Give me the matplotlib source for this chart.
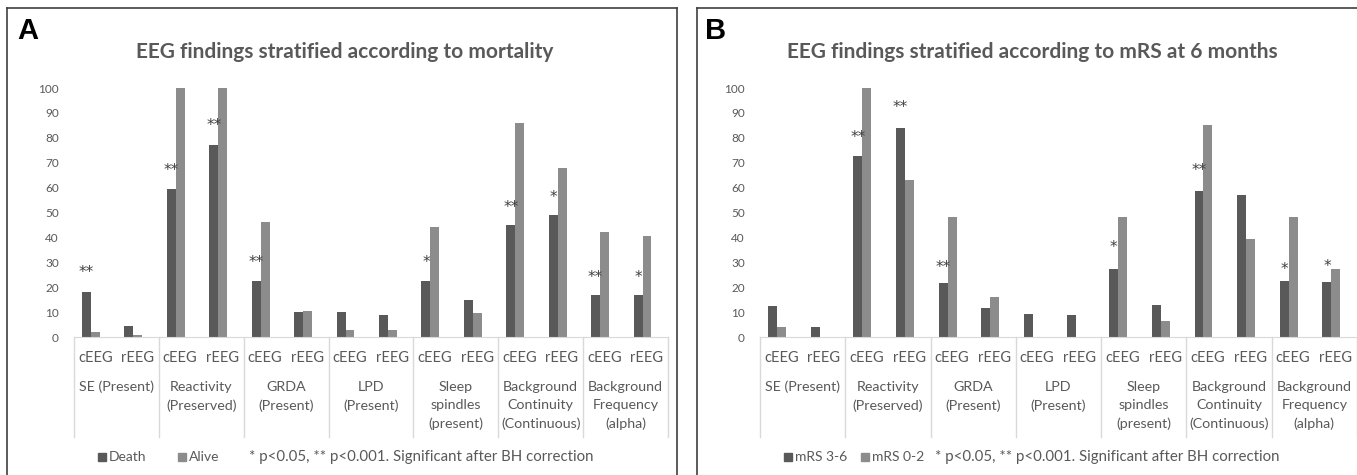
import numpy as np
import matplotlib.pyplot as plt
from matplotlib.lines import Line2D
from matplotlib.patches import Rectangle

plt.rcParams["font.family"] = ["Lato", "DejaVu Sans"]

W, H = 1357, 475

groups = ["SE (Present)", "Reactivity\n(Preserved)", "GRDA\n(Present)", "LPD\n(Present)",
          "Sleep\nspindles\n(present)", "Background\nContinuity\n(Continuous)",
          "Background\nFrequency\n(alpha)"]
subs = ["cEEG", "rEEG"]

# panel A: mortality
death = [18, 4.5, 59.5, 77, 22.5, 10.2, 10, 9, 22.5, 14.8, 45, 49, 17, 17]
alive = [2, 1, 100, 100, 46, 10.5, 3, 3, 44, 9.5, 86, 68, 42, 40.5]
stars_a = ["**", "", "**", "**", "**", "", "", "", "*", "", "**", "*", "**", "*"]
star_y_a = [26, 0, 67, 85, 30, 0, 0, 0, 30, 0, 52, 56, 24, 24]

# panel B: mRS at 6 months
mrs36 = [12.5, 4, 72.5, 84, 21.5, 11.5, 9.3, 9, 27.5, 13, 58.5, 57, 22.5, 22]
mrs02 = [4, 0, 100, 63, 48, 16, 0, 0, 48, 6.5, 85, 39.5, 48, 27.5]
stars_b = ["", "", "**", "**", "**", "", "", "", "*", "", "**", "", "*", "*"]
star_y_b = [0, 0, 80, 92, 28, 0, 0, 0, 36, 0, 67, 0, 27, 28.5]

DARK = "#595959"
LIGHT = "#8c8c8c"
TXT = "#595959"
GRID = "#d9d9d9"

fig = plt.figure(figsize=(W / 100, H / 100), dpi=100)


def fx(px):
    return px / W


def fy(py):
    return 1 - py / H


# panel frames
for x0, x1 in [(7, 677), (697, 1360)]:
    fig.add_artist(Line2D([fx(x0), fx(x0)], [fy(8), fy(480)], color="#404040", lw=1.2))
    fig.add_artist(Line2D([fx(x0), fx(x1)], [fy(8), fy(8)], color="#404040", lw=1.2))
    fig.add_artist(Line2D([fx(x1), fx(x1)], [fy(8), fy(480)], color="#404040", lw=1.2))


def panel(left_px, right_px, letter, letter_x, title, v1, v2, stars, star_y, names, gap):
    ax = fig.add_axes([fx(left_px), fy(337), fx(right_px - left_px), (337 - 88) / H])
    n = len(v1)
    x = np.arange(n) - 0.1
    bw = 0.21
    ax.bar(x - bw / 2, v1, bw, color=DARK)
    ax.bar(x + bw / 2, v2, bw, color=LIGHT)
    for xi, s, yv in zip(x, stars, star_y):
        if s:
            ax.text(xi - bw / 2, yv, s, ha="center", va="center", fontsize=11,
                    color="#404040", family=["DejaVu Sans"])
    ax.set_xlim(-0.5, n - 0.5)
    ax.set_ylim(0, 100)
    ax.set_yticks(range(0, 101, 10))
    ax.tick_params(axis="y", length=0, labelsize=8.5, labelcolor=TXT, pad=11)
    ax.set_xticks([])
    for sp in ["top", "right", "left"]:
        ax.spines[sp].set_visible(False)
    ax.spines["bottom"].set_color(GRID)
    # category dividers below the axis
    for k in range(0, n + 1, 2):
        ax.plot([k - 0.5, k - 0.5], [0, -40], color=GRID, lw=1, clip_on=False)
    for i in range(n):
        ax.text(i, -8.4, subs[i % 2], ha="center", va="center", fontsize=10.5, color=TXT)
    for g, name in enumerate(groups):
        ax.text(2 * g + 0.5, -17.5, name, ha="center", va="top", fontsize=10.3, color=TXT,
                linespacing=1.65)
    fig.text(fx(letter_x), fy(31), letter, fontsize=21, fontweight="bold", color="black",
             va="center", family=["Liberation Sans", "DejaVu Sans"])
    fig.text(fx((left_px + right_px) / 2 - 26), fy(52), title, fontsize=15, fontweight="bold",
             color=TXT, ha="center", va="center")
    # legend row
    lx = left_px + 24
    for name, col in zip(names, [DARK, LIGHT]):
        fig.add_artist(Rectangle((fx(lx), fy(461)), fx(8), 8 / H, color=col))
        fig.text(fx(lx + 11), fy(457), name, fontsize=10, color=TXT, va="center")
        lx += gap
    fig.text(fx(left_px + 175), fy(457), "* p<0.05, ** p<0.001. Significant after BH correction",
             fontsize=10.8, color=TXT, va="center")
    return ax


panel(74, 668, "A", 17, "EEG findings stratified according to mortality",
      death, alive, stars_a, star_y_a, ["Death", "Alive"], 80)
panel(760, 1357, "B", 705, "EEG findings stratified according to mRS at 6 months",
      mrs36, mrs02, stars_b, star_y_b, ["mRS 3-6", "mRS 0-2"], 77)

fig.savefig("out.png", dpi=100)
